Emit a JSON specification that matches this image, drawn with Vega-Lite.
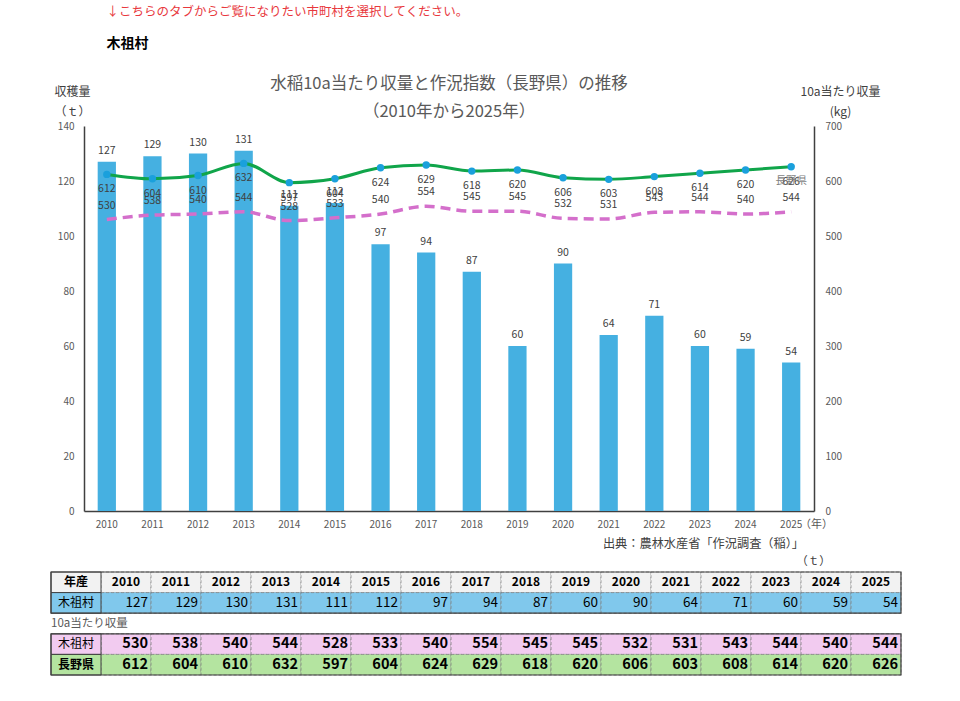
{
  "$schema": "https://vega.github.io/schema/vega-lite/v6.json",
  "background": "white",
  "padding": {"left": 50, "top": 6, "right": 10, "bottom": 5},
  "config": {
    "view": {"stroke": null},
    "font": "Noto Sans CJK JP",
    "axis": {"labelFont": "Noto Sans CJK JP", "titleFont": "Noto Sans CJK JP"}
  },
  "title": {
    "text": "↓こちらのタブからご覧になりたい市町村を選択してください。",
    "subtitle": "木祖村",
    "anchor": "start",
    "frame": "bounds",
    "dx": 56,
    "fontSize": 12.5,
    "fontWeight": "normal",
    "color": "#e8383d",
    "subtitleFontSize": 14,
    "subtitleFontWeight": "bold",
    "subtitleColor": "#000000",
    "subtitlePadding": 18,
    "offset": 25
  },
  "datasets": {
    "rice": [
      {"year": 2010, "tons": 127, "kiso": 530, "nagano": 612},
      {"year": 2011, "tons": 129, "kiso": 538, "nagano": 604},
      {"year": 2012, "tons": 130, "kiso": 540, "nagano": 610},
      {"year": 2013, "tons": 131, "kiso": 544, "nagano": 632},
      {"year": 2014, "tons": 111, "kiso": 528, "nagano": 597},
      {"year": 2015, "tons": 112, "kiso": 533, "nagano": 604},
      {"year": 2016, "tons": 97, "kiso": 540, "nagano": 624},
      {"year": 2017, "tons": 94, "kiso": 554, "nagano": 629},
      {"year": 2018, "tons": 87, "kiso": 545, "nagano": 618},
      {"year": 2019, "tons": 60, "kiso": 545, "nagano": 620},
      {"year": 2020, "tons": 90, "kiso": 532, "nagano": 606},
      {"year": 2021, "tons": 64, "kiso": 531, "nagano": 603},
      {"year": 2022, "tons": 71, "kiso": 543, "nagano": 608},
      {"year": 2023, "tons": 60, "kiso": 544, "nagano": 614},
      {"year": 2024, "tons": 59, "kiso": 540, "nagano": 620},
      {"year": 2025, "tons": 54, "kiso": 544, "nagano": 626}
    ],
    "rowlabels": [
      {"row": "h", "label": "年産"},
      {"row": "tons", "label": "木祖村"},
      {"row": "kiso", "label": "木祖村"},
      {"row": "nagano", "label": "長野県"}
    ],
    "note": [{"t": "10a当たり収量"}],
    "frames": [
      {"r1": "h", "r2": "tons"},
      {"r1": "kiso", "r2": "nagano"}
    ]
  },
  "spacing": 8,
  "vconcat": [
    {
      "width": 730,
      "height": 385,
      "title": {
        "text": ["水稲10a当たり収量と作況指数（長野県）の推移", "（2010年から2025年）"],
        "fontSize": 16.5,
        "fontWeight": "normal",
        "color": "#595959",
        "lineHeight": 28,
        "anchor": "middle",
        "offset": -35
      },
      "data": {"name": "rice"},
      "layer": [
        {
          "layer": [
            {
              "mark": {"type": "bar", "color": "#45b0e1"},
              "encoding": {
                "x": {
                  "field": "year", "type": "ordinal",
                  "scale": {"paddingInner": 0.6, "paddingOuter": 0.3},
                  "axis": {
                    "title": "（年）", "titleX": 732, "titleY": 13, "titleAlign": "center", "titleBaseline": "middle",
                    "titleFontSize": 11, "titleFontWeight": "normal", "titleColor": "#595959",
                    "labelAngle": 0, "labelFontSize": 10, "labelColor": "#595959", "labelPadding": 8,
                    "ticks": false, "domainColor": "#404040", "domainWidth": 1.5
                  }
                },
                "y": {
                  "field": "tons", "type": "quantitative",
                  "scale": {"domain": [0, 140], "nice": false},
                  "axis": {
                    "title": ["収穫量", "（ｔ）"], "titleAngle": 0, "titleX": -12, "titleY": -35,
                    "titleAlign": "center", "titleBaseline": "middle", "titleLineHeight": 20,
                    "titleFontSize": 12, "titleFontWeight": "normal", "titleColor": "#404040",
                    "values": [0, 20, 40, 60, 80, 100, 120, 140],
                    "labelFontSize": 10, "labelColor": "#595959", "labelPadding": 10,
                    "ticks": false, "grid": false, "domainColor": "#404040", "domainWidth": 1.5
                  }
                }
              }
            },
            {
              "mark": {"type": "text", "baseline": "middle", "dy": -11, "fontSize": 10.5, "color": "#404040"},
              "encoding": {
                "x": {"field": "year", "type": "ordinal"},
                "y": {"field": "tons", "type": "quantitative"},
                "text": {"field": "tons"}
              }
            }
          ]
        },
        {
          "layer": [
            {
              "mark": {"type": "line", "color": "#d46fcb", "strokeWidth": 3.5, "strokeDash": [10, 6], "interpolate": "monotone"},
              "encoding": {
                "x": {"field": "year", "type": "ordinal"},
                "y": {
                  "field": "kiso", "type": "quantitative",
                  "scale": {"domain": [0, 700], "nice": false},
                  "axis": {
                    "orient": "right",
                    "title": ["10a当たり収量", "(kg)"], "titleAngle": 0, "titleX": 26, "titleY": -35,
                    "titleAlign": "center", "titleBaseline": "middle", "titleLineHeight": 20,
                    "titleFontSize": 12, "titleFontWeight": "normal", "titleColor": "#404040",
                    "values": [0, 100, 200, 300, 400, 500, 600, 700],
                    "labelFontSize": 10, "labelColor": "#595959", "labelPadding": 11,
                    "ticks": false, "grid": false, "domainColor": "#404040", "domainWidth": 1.5
                  }
                }
              }
            },
            {
              "mark": {"type": "line", "color": "#10a54a", "strokeWidth": 3, "interpolate": "monotone"},
              "encoding": {
                "x": {"field": "year", "type": "ordinal"},
                "y": {"field": "nagano", "type": "quantitative"}
              }
            },
            {
              "mark": {"type": "point", "filled": true, "opacity": 1, "color": "#1aa0dc", "size": 55},
              "encoding": {
                "x": {"field": "year", "type": "ordinal"},
                "y": {"field": "nagano", "type": "quantitative"}
              }
            },
            {
              "mark": {"type": "text", "baseline": "middle", "dy": -14, "fontSize": 10.5, "color": "#404040"},
              "encoding": {
                "x": {"field": "year", "type": "ordinal"},
                "y": {"field": "kiso", "type": "quantitative"},
                "text": {"field": "kiso"}
              }
            },
            {
              "mark": {"type": "text", "baseline": "middle", "dy": 15, "fontSize": 10.5, "color": "#404040"},
              "encoding": {
                "x": {"field": "year", "type": "ordinal"},
                "y": {"field": "nagano", "type": "quantitative"},
                "text": {"field": "nagano"}
              }
            },
            {
              "transform": [{"filter": "datum.year == 2025"}],
              "mark": {"type": "text", "baseline": "middle", "dy": 14, "fontSize": 10.5, "color": "#7f7f7f"},
              "encoding": {
                "x": {"field": "year", "type": "ordinal"},
                "y": {"field": "nagano", "type": "quantitative"},
                "text": {"value": "長野県"}
              }
            }
          ]
        }
      ],
      "resolve": {"scale": {"y": "independent"}}
    },
    {
      "width": 730,
      "height": 103,
      "title": {
        "text": "出典：農林水産省「作況調査（稲）」",
        "anchor": "end",
        "frame": "group",
        "dx": -10,
        "fontSize": 12.2,
        "fontWeight": "normal",
        "color": "#404040",
        "offset": 5
      },
      "encoding": {
        "x": {
          "field": "year", "type": "ordinal",
          "scale": {
            "type": "band",
            "domain": ["label", 2010, 2011, 2012, 2013, 2014, 2015, 2016, 2017, 2018, 2019, 2020, 2021, 2022, 2023, 2024, 2025],
            "range": [-33, 817], "paddingInner": 0, "paddingOuter": 0
          },
          "axis": {
            "orient": "top", "title": "（ｔ）", "titleX": 729, "titleY": -11, "titleAlign": "center", "titleBaseline": "middle",
            "titleFontSize": 11.5, "titleFontWeight": "normal", "titleColor": "#404040",
            "labels": false, "ticks": false, "domain": false
          }
        }
      },
      "layer": [
        {
          "data": {"name": "rice"},
          "mark": {"type": "rect", "fill": "#f2f2f2", "stroke": "#8c8c8c", "strokeDash": [3, 2], "strokeWidth": 0.8},
          "encoding": {
            "y": {"datum": "h", "type": "nominal", "scale": {"type": "band", "domain": ["h", "tons", "gap", "kiso", "nagano"], "paddingInner": 0, "paddingOuter": 0}, "axis": null}
          }
        },
        {
          "data": {"name": "rice"},
          "transform": [{"fold": ["tons", "kiso", "nagano"], "as": ["row", "val"]}],
          "mark": {"type": "rect", "stroke": "#7f7f7f", "strokeDash": [3, 2], "strokeWidth": 0.8},
          "encoding": {
            "y": {"field": "row", "type": "nominal"},
            "fill": {"field": "row", "type": "nominal", "scale": {"domain": ["h", "tons", "kiso", "nagano"], "range": ["#f2f2f2", "#80c8ec", "#f2cbf0", "#b4e4a0"]}, "legend": null}
          }
        },
        {
          "data": {"name": "rowlabels"},
          "mark": {"type": "rect", "stroke": "#404040", "strokeWidth": 1},
          "encoding": {
            "x": {"datum": "label", "type": "ordinal"},
            "y": {"field": "row", "type": "nominal"},
            "fill": {"field": "row", "type": "nominal", "legend": null}
          }
        },
        {
          "data": {"name": "frames"},
          "mark": {"type": "rect", "fill": null, "fillOpacity": 0, "stroke": "#404040", "strokeWidth": 1.2},
          "encoding": {
            "x": {"datum": "label", "type": "ordinal", "bandPosition": 0},
            "x2": {"datum": 2025, "bandPosition": 1},
            "y": {"field": "r1", "type": "nominal", "bandPosition": 0},
            "y2": {"field": "r2", "bandPosition": 1}
          }
        },
        {
          "data": {"name": "rice"},
          "mark": {"type": "text", "fontSize": 12, "fontWeight": "bold", "color": "#000000", "baseline": "middle"},
          "encoding": {
            "y": {"datum": "h", "type": "nominal"},
            "text": {"field": "year"}
          }
        },
        {
          "data": {"name": "rice"},
          "transform": [{"fold": ["tons"], "as": ["row", "val"]}],
          "mark": {"type": "text", "fontSize": 13.5, "align": "right", "dx": 22, "color": "#000000", "baseline": "middle"},
          "encoding": {
            "y": {"field": "row", "type": "nominal"},
            "text": {"field": "val"}
          }
        },
        {
          "data": {"name": "rice"},
          "transform": [{"fold": ["kiso", "nagano"], "as": ["row", "val"]}],
          "mark": {"type": "text", "fontSize": 14.5, "fontWeight": "bold", "align": "right", "dx": 22, "color": "#000000", "baseline": "middle"},
          "encoding": {
            "y": {"field": "row", "type": "nominal"},
            "text": {"field": "val"}
          }
        },
        {
          "data": {"name": "rowlabels"},
          "transform": [{"filter": "datum.row == 'h' || datum.row == 'nagano'"}],
          "mark": {"type": "text", "fontSize": 12, "fontWeight": "bold", "color": "#000000", "baseline": "middle"},
          "encoding": {
            "x": {"datum": "label", "type": "ordinal"},
            "y": {"field": "row", "type": "nominal"},
            "text": {"field": "label"}
          }
        },
        {
          "data": {"name": "rowlabels"},
          "transform": [{"filter": "datum.row == 'tons' || datum.row == 'kiso'"}],
          "mark": {"type": "text", "fontSize": 12, "color": "#000000", "baseline": "middle"},
          "encoding": {
            "x": {"datum": "label", "type": "ordinal"},
            "y": {"field": "row", "type": "nominal"},
            "text": {"field": "label"}
          }
        },
        {
          "data": {"name": "note"},
          "mark": {"type": "text", "fontSize": 11.5, "color": "#595959", "align": "left", "dx": -25, "baseline": "middle"},
          "encoding": {
            "x": {"datum": "label", "type": "ordinal"},
            "y": {"datum": "gap", "type": "nominal"},
            "text": {"field": "t"}
          }
        }
      ]
    }
  ]
}
